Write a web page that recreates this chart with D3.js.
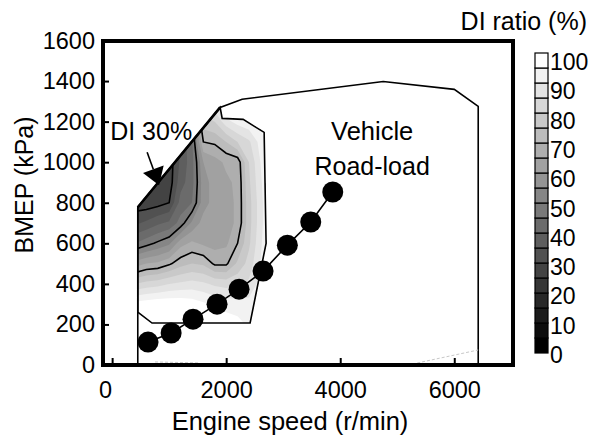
<!DOCTYPE html>
<html>
<head>
<meta charset="utf-8">
<script src="https://cdn.jsdelivr.net/npm/d3@7"></script>
<style>
  body { margin: 0; background: #fff; }
  svg { display: block; font-family: Arial, "Liberation Sans", sans-serif; }
</style>
</head>
<body>
<div id="chart"></div>
<script>
// DI ratio map (rows = BMEP, columns = engine speed)
var speeds = [400, 600, 800, 1000, 1200, 1400, 1600, 1800, 2000, 2200, 2400, 2600, 2800];
var bmeps = [100, 200, 300, 400, 500, 600, 700, 800, 900, 1000, 1100, 1200, 1300];
var diRatio = [
  [100, 100, 100, 100, 100, 100, 100, 100, 100, 100, 100, 100, 100],
  [100, 100, 100, 100, 100, 100, 100,  99,  98,  97,  94,  95,  98],
  [ 97,  98,  99,  99,  99,  98,  96,  94,  93,  92,  92,  94,  97],
  [ 80,  82,  83,  85,  86,  87,  86,  84,  83,  84,  86,  92,  97],
  [ 62,  65,  66,  69,  73,  75,  74,  69,  69,  76,  82,  90,  97],
  [ 45,  48,  51,  54,  63,  66,  64,  63,  64,  70,  79,  89,  97],
  [ 34,  36,  39,  41,  47,  56,  62,  62,  63,  66,  78,  88,  97],
  [ 27,  27,  28,  30,  42,  45,  58,  62,  63,  66,  78,  88,  97],
  [ 25,  25,  26,  27,  38,  43,  58,  62,  64,  66,  79,  89,  97],
  [ 24,  24,  25,  27,  36,  43,  60,  63,  66,  67,  80,  90,  98],
  [ 24,  24,  25,  28,  36,  44,  70,  71,  75,  80,  84,  92,  98],
  [ 25,  25,  26,  30,  38,  47,  78,  80,  88,  92,  94,  97, 100],
  [ 26,  26,  28,  32,  40,  50,  85,  90, 100, 100, 100, 100, 100]
];
var levels = d3.range(0, 100, 5);
var lineLevels = [30, 50, 70];

// measured map region and full-load limit, [r/min, kPa]
var mapRegion = [[450, 261], [450, 778], [1894, 1270], [1930, 1216], [2298, 1211],
  [2666, 1147], [2700, 600], [2420, 207], [700, 207]];
var fullLoad = [[450, 0], [450, 778], [1894, 1270], [2280, 1310], [4754, 1398],
  [6000, 1359], [6420, 1275], [6420, 0]];
var faintTraces = [[[5350, 10], [6420, 74]], [[752, 15], [1541, 10]]];

// vehicle road-load points
var roadSpeed = [630, 1035, 1419, 1840, 2226, 2647, 3073, 3483, 3869];
var roadBmep = [113, 158, 226, 300, 374, 463, 591, 705, 853];

var xTicks = [0, 2000, 4000, 6000];
var yTicks = d3.range(0, 1601, 200);
var cbTicks = d3.range(0, 101, 10);

var w = 590, h = 438;
var x = d3.scaleLinear().domain([-160, 7030]).range([103, 513]);
var y = d3.scaleLinear().domain([0, 1600]).range([365, 40.5]);

var svg = d3.select("#chart").append("svg")
  .attr("width", w)
  .attr("height", h);

var line = d3.line().x(d => x(d[0])).y(d => y(d[1]));

// grid index -> data coordinates (d3.contours puts sample i at i + 0.5)
var ds = speeds[1] - speeds[0], db = bmeps[1] - bmeps[0];
var gridPath = d3.geoPath(d3.geoTransform({
  point: function(gx, gy) {
    this.stream.point(x(speeds[0] + (gx - 0.5) * ds), y(bmeps[0] + (gy - 0.5) * db));
  }
}));
var values = diRatio.flat();

function bandColor(t) {
  var g = Math.round(255 * (t / 5) / 19);
  return d3.rgb(g, g, g).toString();
}

svg.append("clipPath").attr("id", "mapClip")
  .append("path").attr("d", line(mapRegion) + "Z");

var fills = d3.contours().size([speeds.length, bmeps.length]).thresholds(levels)(values);
svg.append("g").attr("clip-path", "url(#mapClip)")
  .selectAll("path").data(fills).join("path")
  .attr("d", gridPath)
  .attr("fill", d => bandColor(d.value));

var isolines = d3.contours().size([speeds.length, bmeps.length]).thresholds(lineLevels)(values);
svg.append("g").attr("clip-path", "url(#mapClip)")
  .selectAll("path").data(isolines).join("path")
  .attr("d", gridPath)
  .attr("fill", "none")
  .attr("stroke", "#000")
  .attr("stroke-width", 1.6)
  .attr("stroke-linejoin", "miter");

svg.append("path").attr("d", line(mapRegion) + "Z")
  .attr("fill", "none").attr("stroke", "#000").attr("stroke-width", 1.6);

svg.append("path").attr("d", line(fullLoad))
  .attr("fill", "none").attr("stroke", "#000").attr("stroke-width", 1.6);
// the steep full-load edge looks heavier in the original
svg.append("path").attr("d", line(fullLoad.slice(1, 3)))
  .attr("fill", "none").attr("stroke", "#000").attr("stroke-width", 2.6);

svg.selectAll(".faint").data(faintTraces).join("path")
  .attr("class", "faint")
  .attr("d", line)
  .attr("fill", "none").attr("stroke", "#c8c8c8").attr("stroke-width", 1)
  .attr("stroke-dasharray", "3,2");

// road-load line
var road = roadSpeed.map((s, i) => [s, roadBmep[i]]);
svg.append("path").attr("d", line(road))
  .attr("fill", "none").attr("stroke", "#000").attr("stroke-width", 1.6);
svg.selectAll(".pt").data(road).join("circle")
  .attr("class", "pt")
  .attr("cx", d => x(d[0])).attr("cy", d => y(d[1]))
  .attr("r", 10.5).attr("fill", "#000");

// axes
var xAxis = svg.append("g").attr("transform", "translate(0,365)")
  .call(d3.axisBottom(x).tickValues(xTicks).tickFormat(d3.format("d"))
    .tickSizeInner(-7).tickSizeOuter(0).tickPadding(16));
var yAxis = svg.append("g").attr("transform", "translate(103,0)")
  .call(d3.axisLeft(y).tickValues(yTicks).tickFormat(d3.format("d"))
    .tickSizeInner(-6).tickSizeOuter(0).tickPadding(8));
[xAxis, yAxis].forEach(function(g) {
  g.select(".domain").remove();
  g.selectAll("line").attr("stroke", "#000").attr("stroke-width", 2);
  g.selectAll("text").attr("fill", "#000").style("font-size", "23.5px")
    .style("font-family", "Arial, 'Liberation Sans', sans-serif");
});
xAxis.selectAll(".tick text").filter(d => d === 0).attr("dx", -7);

svg.append("rect")
  .attr("x", 103).attr("y", 41)
  .attr("width", 410).attr("height", 324)
  .attr("fill", "none").attr("stroke", "#000").attr("stroke-width", 4);

svg.append("text")
  .attr("x", 290).attr("y", 430)
  .attr("text-anchor", "middle").style("font-size", "25.5px")
  .text("Engine speed (r/min)");
svg.append("text")
  .attr("transform", "translate(33,185) rotate(-90)")
  .attr("text-anchor", "middle").style("font-size", "25px")
  .text("BMEP (kPa)");

// annotations
svg.append("text")
  .attr("x", x(4560)).attr("y", y(1108))
  .attr("text-anchor", "middle").style("font-size", "25.5px")
  .text("Vehicle");
svg.append("text")
  .attr("x", x(4560)).attr("y", y(935))
  .attr("text-anchor", "middle").style("font-size", "25px")
  .text("Road-load");
svg.append("text")
  .attr("x", x(1403)).attr("y", y(1108))
  .attr("text-anchor", "end").style("font-size", "25px")
  .text("DI 30%");

var tail = [x(614), y(1049)], tip = [x(824), y(886)];
var dx = tip[0] - tail[0], dy = tip[1] - tail[1], len = Math.hypot(dx, dy);
var ux = dx / len, uy = dy / len, headLen = 17, headW = 11;
var base = [tip[0] - ux * headLen, tip[1] - uy * headLen];
svg.append("line")
  .attr("x1", tail[0]).attr("y1", tail[1]).attr("x2", base[0]).attr("y2", base[1])
  .attr("stroke", "#000").attr("stroke-width", 1.6);
svg.append("path")
  .attr("d", "M" + tip + "L" + [base[0] - uy * headW, base[1] + ux * headW] +
    "L" + [base[0] + uy * headW, base[1] - ux * headW] + "Z")
  .attr("fill", "#000");

// colour bar
var cb = d3.scaleLinear().domain([0, 100]).range([353, 53]);
var cbLabel = d3.scaleLinear().domain([0, 100]).range([355, 62]);
svg.append("g").selectAll("rect").data(levels).join("rect")
  .attr("x", 535).attr("width", 13)
  .attr("y", d => cb(d + 5)).attr("height", d => cb(d) - cb(d + 5))
  .attr("fill", bandColor).attr("stroke", "#000").attr("stroke-width", 1.2);
svg.append("g").selectAll("text").data(cbTicks).join("text")
  .attr("x", 550).attr("y", d => cbLabel(d))
  .attr("dy", "0.35em").style("font-size", "23px")
  .text(d => d);
svg.append("text")
  .attr("x", 587).attr("y", 30)
  .attr("text-anchor", "end").style("font-size", "25px")
  .text("DI ratio (%)");
</script>
</body>
</html>
